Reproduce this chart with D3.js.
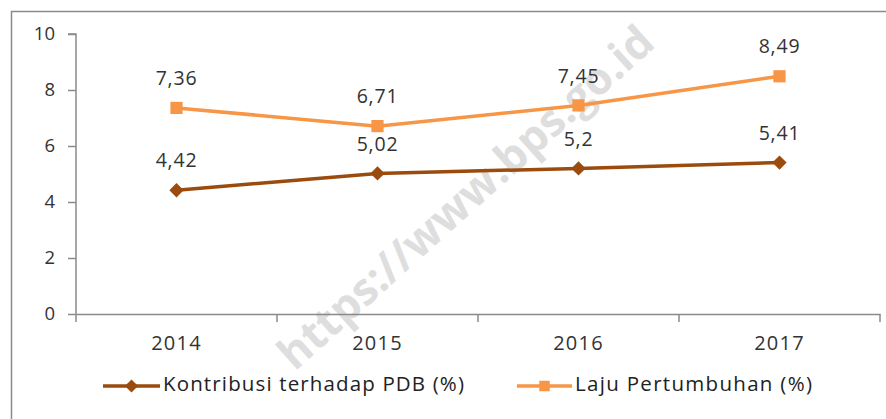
<!DOCTYPE html>
<html><head><meta charset="utf-8">
<script src="https://cdn.jsdelivr.net/npm/d3@7"></script>
<style>body{margin:0;background:#fff;} svg{display:block;}</style>
</head><body>
<svg id="c" width="886" height="419"></svg>
<script>
const categories = ["2014","2015","2016","2017"];
const kontribusi = [4.42, 5.02, 5.2, 5.41];
const laju = [7.36, 6.71, 7.45, 8.49];
const yTicks = [0,2,4,6,8,10];
const seriesNames = ["Kontribusi terhadap PDB (%)", "Laju Pertumbuhan (%)"];
const fmt = v => String(v).replace(".", ",");

const svg = d3.select("#c");
const font = "'Open Sans', 'Liberation Sans', sans-serif";
const W = 886, H = 419;
const m = {l:76, r:6, t:34, b:105};

// outer frame
svg.append("rect").attr("x",11.5).attr("y",11.5).attr("width",W).attr("height",H)
  .attr("fill","none").attr("stroke","#8a8a8a").attr("stroke-width",1.5);

const x = d3.scaleBand().domain(categories).range([m.l, W-m.r]).padding(0);
const y = d3.scaleLinear().domain([0,10]).range([H-m.b, m.t]);

// watermark
svg.append("text").attr("transform","translate(468,200) rotate(-42)")
  .attr("text-anchor","middle").attr("dominant-baseline","middle")
  .attr("font-family",font).attr("font-weight","bold").attr("font-size",44)
  .attr("fill","#dedede").text("https://www.bps.go.id");

// y axis
const ya = svg.append("g").attr("transform",`translate(${m.l},0)`)
  .call(d3.axisLeft(y).tickValues(yTicks).tickSize(8).tickPadding(13));
ya.select(".domain").attr("stroke","#8a8a8a").attr("stroke-width",1.5).attr("d",`M-8,${y(10)}H0V${y(0)}`);
ya.selectAll(".tick line").attr("stroke","#8a8a8a").attr("stroke-width",1.5);
ya.selectAll(".tick text").attr("font-family",font).attr("font-size",18.5).attr("fill","#333");

// x axis
const xa = svg.append("g").attr("transform",`translate(0,${y(0)})`)
  .call(d3.axisBottom(x).tickSize(0).tickPadding(22));
xa.select(".domain").attr("stroke","#8a8a8a").attr("stroke-width",1.5);
xa.selectAll(".tick text").attr("font-family",font).attr("font-size",20)
  .attr("letter-spacing",1.2).attr("fill","#333");
const edges = categories.map(c => x(c)).concat([x(categories[categories.length-1]) + x.bandwidth()]);
xa.selectAll(".edge").data(edges).enter().append("line")
  .attr("x1",d=>d).attr("x2",d=>d).attr("y1",0).attr("y2",8)
  .attr("stroke","#8a8a8a").attr("stroke-width",1.5);

const cx = c => x(c) + x.bandwidth()/2;
const line = d3.line().x((d,i)=>cx(categories[i])).y(d=>y(d));
const brown = "#9a4b0d", orange = "#f79646";

function drawSeries(vals, color, shape) {
  svg.append("path").datum(vals).attr("d",line).attr("fill","none")
    .attr("stroke",color).attr("stroke-width",3.5);
  const sym = shape === "diamond"
    ? d3.symbol().type(d3.symbolDiamond2).size(130)
    : d3.symbol().type(d3.symbolSquare2).size(190);
  svg.selectAll(null).data(vals).enter().append("path")
    .attr("d",sym).attr("fill",color)
    .attr("transform",(d,i)=>`translate(${cx(categories[i])},${y(d)})`);
  svg.selectAll(null).data(vals).enter().append("text")
    .attr("x",(d,i)=>cx(categories[i])).attr("y",d=>y(d)-28)
    .attr("text-anchor","middle").attr("dominant-baseline","middle")
    .attr("font-family",font).attr("font-size",19.5).attr("letter-spacing",0.8).attr("fill","#333")
    .text(d=>fmt(d));
}
drawSeries(laju, orange, "square");
drawSeries(kontribusi, brown, "diamond");

// legend
const ly = 386;
const leg = [
  {x0:103, x1:160, color:brown, shape:"diamond", name:seriesNames[0], len:301},
  {x0:517, x1:572, color:orange, shape:"square", name:seriesNames[1], len:237}
];
leg.forEach(l => {
  svg.append("line").attr("x1",l.x0).attr("x2",l.x1).attr("y1",ly).attr("y2",ly)
    .attr("stroke",l.color).attr("stroke-width",3.5);
  const sym = l.shape==="diamond" ? d3.symbol().type(d3.symbolDiamond2).size(110)
                                  : d3.symbol().type(d3.symbolSquare2).size(140);
  svg.append("path").attr("d",sym).attr("fill",l.color)
    .attr("transform",`translate(${(l.x0+l.x1)/2},${ly})`);
  svg.append("text").attr("x",l.x1+3).attr("y",ly).attr("dominant-baseline","middle")
    .attr("font-family",font).attr("font-size",20.5).attr("fill","#222")
    .attr("textLength",l.len).attr("lengthAdjust","spacing").text(l.name);
});
</script>
</body></html>
